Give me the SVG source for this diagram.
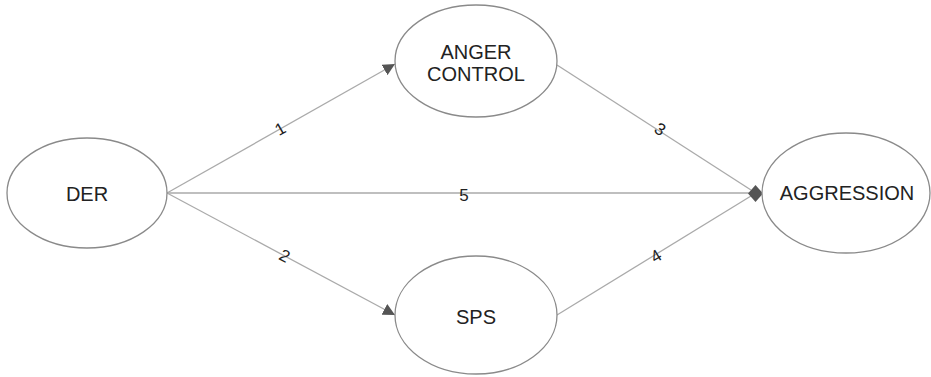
<svg xmlns="http://www.w3.org/2000/svg" width="931" height="377" viewBox="0 0 931 377">
<style>
.node ellipse{fill:#fff;stroke:#8a8a8a;stroke-width:1.3}
.node text{font-family:"Liberation Sans",Arial,sans-serif;font-size:20px;fill:#222;text-anchor:middle}
.edge{stroke:#aaa;stroke-width:1.3;fill:none}
.lbl{font-family:"Liberation Sans",Arial,sans-serif;font-size:17px;fill:#222;text-anchor:middle}
</style>
<defs>
<marker id="tri" viewBox="0 0 10 10" refX="10" refY="5" markerWidth="12" markerHeight="12" markerUnits="userSpaceOnUse" orient="auto">
<path d="M0,0 L10,5 L0,10 z" fill="#555"/>
</marker>
</defs>
<g id="connectors">
<line class="edge" x1="167" y1="193" x2="395" y2="64" marker-end="url(#tri)"/>
<line class="edge" x1="167" y1="193" x2="395" y2="315" marker-end="url(#tri)"/>
<line class="edge" x1="167" y1="193" x2="750" y2="193"/>
<line class="edge" x1="557" y1="65" x2="751" y2="190"/>
<line class="edge" x1="557" y1="315" x2="751" y2="196"/>
<path d="M748,193.5 L755.5,185 L763,193.5 L755.5,202 z" fill="#555"/>
<text class="lbl" transform="translate(283,134) rotate(-29.7)">1</text>
<text class="lbl" transform="translate(282,261) rotate(28)">2</text>
<text class="lbl" transform="translate(657,134) rotate(33)">3</text>
<text class="lbl" transform="translate(659,261) rotate(-31.6)">4</text>
<text class="lbl" x="464" y="201">5</text>
</g>
<g id="DER" class="node"><ellipse cx="87" cy="193" rx="80" ry="55"/><text x="87" y="201">DER</text></g>
<g id="ANGER_CONTROL" class="node"><ellipse cx="476" cy="61" rx="81" ry="56"/><text x="476" y="59">ANGER</text><text x="476" y="81">CONTROL</text></g>
<g id="SPS" class="node"><ellipse cx="476" cy="315" rx="81" ry="59"/><text x="476" y="324">SPS</text></g>
<g id="AGGRESSION" class="node"><ellipse cx="846" cy="193" rx="84" ry="60"/><text x="847" y="200">AGGRESSION</text></g>
</svg>
